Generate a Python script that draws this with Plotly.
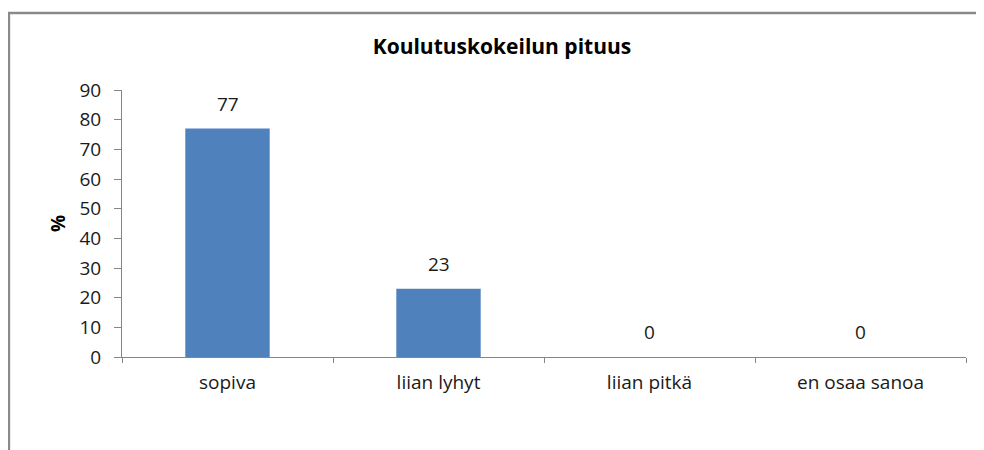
import plotly.graph_objects as go

# chart data
categories = ["sopiva", "liian lyhyt", "liian pitkä", "en osaa sanoa"]
values = [77, 23, 0, 0]
y_ticks = [0, 10, 20, 30, 40, 50, 60, 70, 80, 90]

FONT = "Open Sans"
AXIS_GREY = "#868686"
TEXT_DARK = "#1a1a1a"

fig = go.Figure()

fig.add_trace(go.Bar(
    x=categories,
    y=values,
    marker_color="#4F81BD",
    marker_line_width=0,
    width=0.4,
    hoverinfo="x+y",
))

# value labels sit a bit higher above the bars than plotly's "outside" text
for cat, val in zip(categories, values):
    fig.add_annotation(
        x=cat, y=val, text=str(val),
        showarrow=False, yanchor="bottom", yshift=10,
        font=dict(family=FONT, size=19, color=TEXT_DARK),
    )

# page body has an 8px margin, so margins are trimmed to keep the plot area in place
fig.update_layout(
    width=984,
    height=450,
    margin=dict(l=114, r=26, t=82, b=101),
    paper_bgcolor="white",
    plot_bgcolor="white",
    showlegend=False,
    title=dict(
        text="<b>Koulutuskokeilun pituus</b>",
        x=0.502, xref="container", xanchor="center",
        y=1 - 39 / 450, yref="container", yanchor="middle",
        font=dict(family=FONT, size=21, color="black"),
    ),
    font=dict(family=FONT, size=19, color=TEXT_DARK),
)

fig.update_yaxes(
    range=[0, 90],
    tickvals=y_ticks,
    ticks="outside",
    ticklen=7,
    tickcolor=AXIS_GREY,
    ticklabelstandoff=9,
    showline=True,
    linecolor=AXIS_GREY,
    linewidth=1,
    showgrid=False,
    zeroline=False,
    tickfont=dict(family=FONT, size=19, color=TEXT_DARK),
    title=dict(text="<b>%</b>", font=dict(family=FONT, size=19, color="black"), standoff=8),
)

fig.update_xaxes(
    ticks="outside",
    tickson="boundaries",
    ticklen=5,
    tickcolor=AXIS_GREY,
    ticklabelstandoff=8,
    showline=True,
    linecolor=AXIS_GREY,
    linewidth=1,
    showgrid=False,
    tickfont=dict(family=FONT, size=19, color=TEXT_DARK),
)

# outer chart-area border (left and top edges visible in the crop)
fig.add_shape(
    type="path",
    xref="paper", yref="paper",
    path="M -0.134 -0.5 L -0.134 1.288 L 1.1 1.288",
    line=dict(color="#8a8a8a", width=2.5),
    layer="above",
)

fig.write_html("out.html")
